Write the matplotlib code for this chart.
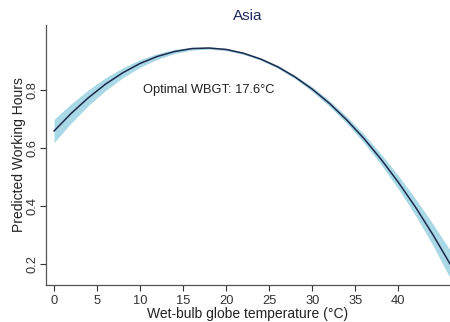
import matplotlib
matplotlib.use('Agg')
import matplotlib.pyplot as plt

plt.rcParams['font.family'] = ['Liberation Sans', 'DejaVu Sans']

# values
wbgt = [0, 2, 4, 6, 8, 10, 12, 14, 16, 18, 20, 22,
        24, 26, 28, 30, 32, 34, 36, 38, 40, 42, 44, 46]
hours = [0.659, 0.720, 0.774, 0.821, 0.860, 0.892, 0.916, 0.933, 0.943, 0.945, 0.940, 0.927,
         0.907, 0.880, 0.845, 0.803, 0.754, 0.697, 0.633, 0.561, 0.482, 0.396, 0.302, 0.201]
half_width = [0.040, 0.033, 0.027, 0.022, 0.017, 0.013, 0.010, 0.007, 0.005, 0.004, 0.004, 0.004,
              0.004, 0.005, 0.006, 0.008, 0.010, 0.012, 0.015, 0.018, 0.023, 0.029, 0.037, 0.048]
lower = [h - w for h, w in zip(hours, half_width)]
upper = [h + w for h, w in zip(hours, half_width)]

x_ticks = [0, 5, 10, 15, 20, 25, 30, 35, 40]
y_ticks = [0.2, 0.4, 0.6, 0.8]
optimum = 17.6

fig = plt.figure(figsize=(4.5, 3.22), dpi=100)
ax = fig.add_axes([0.102, 0.115, 0.898, 0.807])

ax.fill_between(wbgt, lower, upper, color='#a9d8e6', linewidth=0)
ax.plot(wbgt, hours, color='#1c2a4c', linewidth=1.1)

ax.text(10.3, 0.8, 'Optimal WBGT: %.1f°C' % optimum, fontsize=9.3, va='center', ha='left', color='#222222')

ax.set_xlim(-0.95, 46)
ax.set_ylim(0.128, 1.024)
ax.set_xticks(x_ticks)
ax.set_yticks(y_ticks)
ax.set_yticklabels(['%.1f' % v for v in y_ticks], rotation=90, va='center')

for side in ['top', 'right']:
    ax.spines[side].set_visible(False)
for side in ['left', 'bottom']:
    ax.spines[side].set_color('#555555')
    ax.spines[side].set_linewidth(0.9)
ax.tick_params(colors='#333333', labelsize=9.3, length=4, width=0.8)
ax.tick_params(axis='y', pad=1)

ax.set_xlabel('Wet-bulb globe temperature (°C)', fontsize=10, labelpad=0, color='#222222')
ax.set_ylabel('Predicted Working Hours', fontsize=10, labelpad=1, color='#222222')
ax.set_title('Asia', fontsize=11, color='#1e2a5e', pad=4)

fig.savefig('out.png', dpi=100)
plt.close()
